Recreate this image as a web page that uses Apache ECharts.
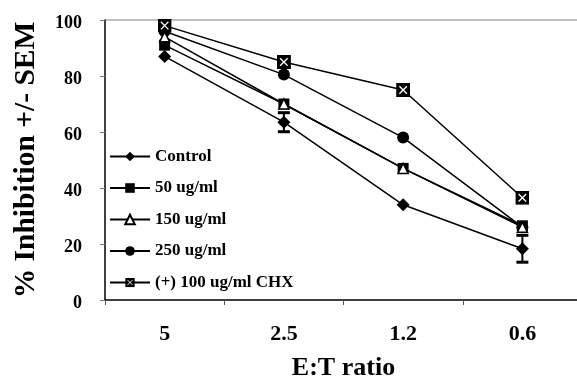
<!DOCTYPE html>
<html><head><meta charset="utf-8">
<script src="https://cdn.jsdelivr.net/npm/echarts@6/dist/echarts.min.js"></script>
<style>html,body{margin:0;padding:0;background:#fff}#c{width:577px;height:381px}</style>
</head><body><div id="c"></div>
<script>
var categories = ['5', '2.5', '1.2', '0.6'];
var seriesNames = ['Control', '50 ug/ml', '150 ug/ml', '250 ug/ml', '(+) 100 ug/ml CHX'];
var control = [87, 63.5, 34, 18.3];
var ug50 = [91, 70, 47, 26.5];
var ug150 = [94, 70, 47, 26];
var ug250 = [96, 80.5, 58, 26];
var chx = [98, 85, 75, 36.5];
var controlSem = [0, 3.4, 0, 4.8];
var yTicks = [0, 20, 40, 60, 80, 100];

var FONT = '"Liberation Serif", "Times New Roman", serif';
var chxSvg = "<svg xmlns='http://www.w3.org/2000/svg' width='26' height='26'><rect width='26' height='26' fill='black'/><path d='M6 6L20 20M20 6L6 20' stroke='white' stroke-width='2.4'/></svg>";
var chxSymbol = 'image://data:image/svg+xml;charset=utf-8,' + encodeURIComponent(chxSvg);

var errData = categories.map(function (c, i) {
  return [i, control[i] - controlSem[i], control[i] + controlSem[i]];
}).filter(function (d) { return d[2] - d[1] > 0; });

function lineSeries(name, data, symbol, size, itemStyle) {
  return {
    name: name, type: 'line', data: data, symbol: symbol, symbolSize: size,
    lineStyle: { color: '#000', width: 1.5 },
    itemStyle: itemStyle || { color: '#000' },
    animation: false
  };
}

var chart = echarts.init(document.getElementById('c'));
chart.setOption({
  backgroundColor: '#fff',
  animation: false,
  grid: { left: 105, top: 20, width: 477, height: 280, containLabel: false, outerBoundsMode: 'none' },
  legend: {
    data: seriesNames,
    orient: 'vertical', left: 109, top: 148, padding: 0,
    itemWidth: 40, itemHeight: 12, itemGap: 14.5,
    textStyle: { fontFamily: FONT, fontWeight: 'bold', fontSize: 17, color: '#000' },
    selectedMode: false
  },
  xAxis: {
    type: 'category', data: categories,
    axisLine: { lineStyle: { color: '#000', width: 1.5 } },
    axisTick: { show: true, length: 5, lineStyle: { color: '#555' } },
    axisLabel: { fontFamily: FONT, fontWeight: 'bold', fontSize: 22, color: '#000', margin: 23 },
    name: 'E:T ratio', nameLocation: 'middle', nameGap: 55,
    nameTextStyle: { fontFamily: FONT, fontWeight: 'bold', fontSize: 26, color: '#000' }
  },
  yAxis: {
    type: 'value', min: 0, max: 100, interval: 20,
    axisLine: { show: true, lineStyle: { color: '#000', width: 1.5 } },
    axisTick: { show: true, length: 5, lineStyle: { color: '#777' } },
    splitLine: { show: false },
    axisLabel: { fontFamily: FONT, fontWeight: 'bold', fontSize: 18, color: '#000', margin: 23, verticalAlign: 'top', lineHeight: 6 },
    name: '% Inhibition +/- SEM', nameLocation: 'middle', nameGap: 64,
    nameTextStyle: { fontFamily: FONT, fontWeight: 'bold', fontSize: 29.5, color: '#000' }
  },
  graphic: [{
    type: 'line', shape: { x1: 105, y1: 20, x2: 577, y2: 20 },
    style: { stroke: '#aaa', lineWidth: 1.5 }, silent: true
  }],
  series: [
    {
      type: 'custom', name: 'SEM', data: errData, z: 3,
      renderItem: function (params, api) {
        var lo = api.coord([api.value(0), api.value(1)]);
        var hi = api.coord([api.value(0), api.value(2)]);
        var w = 6;
        return { type: 'group', children: [
          { type: 'line', shape: { x1: lo[0], y1: lo[1], x2: hi[0], y2: hi[1] }, style: { stroke: '#000', lineWidth: 2 } },
          { type: 'line', shape: { x1: lo[0] - w, y1: lo[1], x2: lo[0] + w, y2: lo[1] }, style: { stroke: '#000', lineWidth: 3 } },
          { type: 'line', shape: { x1: hi[0] - w, y1: hi[1], x2: hi[0] + w, y2: hi[1] }, style: { stroke: '#000', lineWidth: 3 } }
        ]};
      },
      animation: false
    },
    lineSeries(seriesNames[0], control, 'diamond', 13),
    lineSeries(seriesNames[1], ug50, 'rect', 11),
    lineSeries(seriesNames[3], ug250, 'circle', 12),
    lineSeries(seriesNames[2], ug150, 'triangle', 10, { color: '#fff', borderColor: '#000', borderWidth: 1.5 }),
    lineSeries(seriesNames[4], chx, chxSymbol, 14)
  ]
});
</script>
</body></html>
